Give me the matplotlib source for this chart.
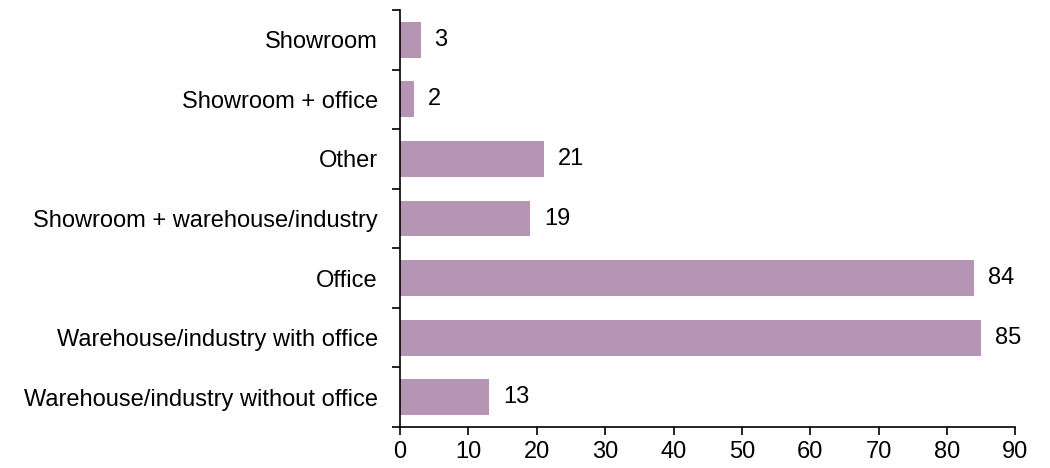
import matplotlib.pyplot as plt
import numpy as np

plt.rcParams['font.family'] = ['Liberation Sans', 'DejaVu Sans']

categories = ['Showroom', 'Showroom + office', 'Other', 'Showroom + warehouse/industry',
              'Office', 'Warehouse/industry with office', 'Warehouse/industry without office']
values = [3, 2, 21, 19, 84, 85, 13]
xticks = [0, 10, 20, 30, 40, 50, 60, 70, 80, 90]

bar_color = '#b595b3'


def plot_bars():
    fig = plt.figure(figsize=(10.5, 4.68), dpi=100)
    ax = fig.add_axes([0.381, 0.0876, 0.586, 0.891])

    y = np.arange(len(categories))
    ax.barh(y, values, height=0.6, color=bar_color)
    for yi, v in zip(y, values):
        ax.annotate(str(v), (v, yi), xytext=(10, 0), textcoords='offset points',
                    va='center', ha='left', fontsize=17)

    ax.set_ylim(len(categories) - 0.5, -0.5)
    ax.set_xlim(0, 90)
    ax.set_xticks(xticks)
    ax.set_yticks(y)
    ax.set_yticklabels(categories)
    # category boundary ticks on the value axis
    ax.set_yticks(np.arange(-0.5, len(categories)), minor=True)
    ax.tick_params(axis='y', which='major', length=0, pad=16, labelsize=17)
    ax.tick_params(axis='y', which='minor', length=6, width=1.2, direction='out')
    ax.tick_params(axis='x', length=6, width=1.2, direction='out', labelsize=17, pad=4)

    for side in ['top', 'right']:
        ax.spines[side].set_visible(False)
    for side in ['left', 'bottom']:
        ax.spines[side].set_linewidth(1.2)

    fig.savefig('out.png', dpi=100)


if __name__ == '__main__':
    plot_bars()
